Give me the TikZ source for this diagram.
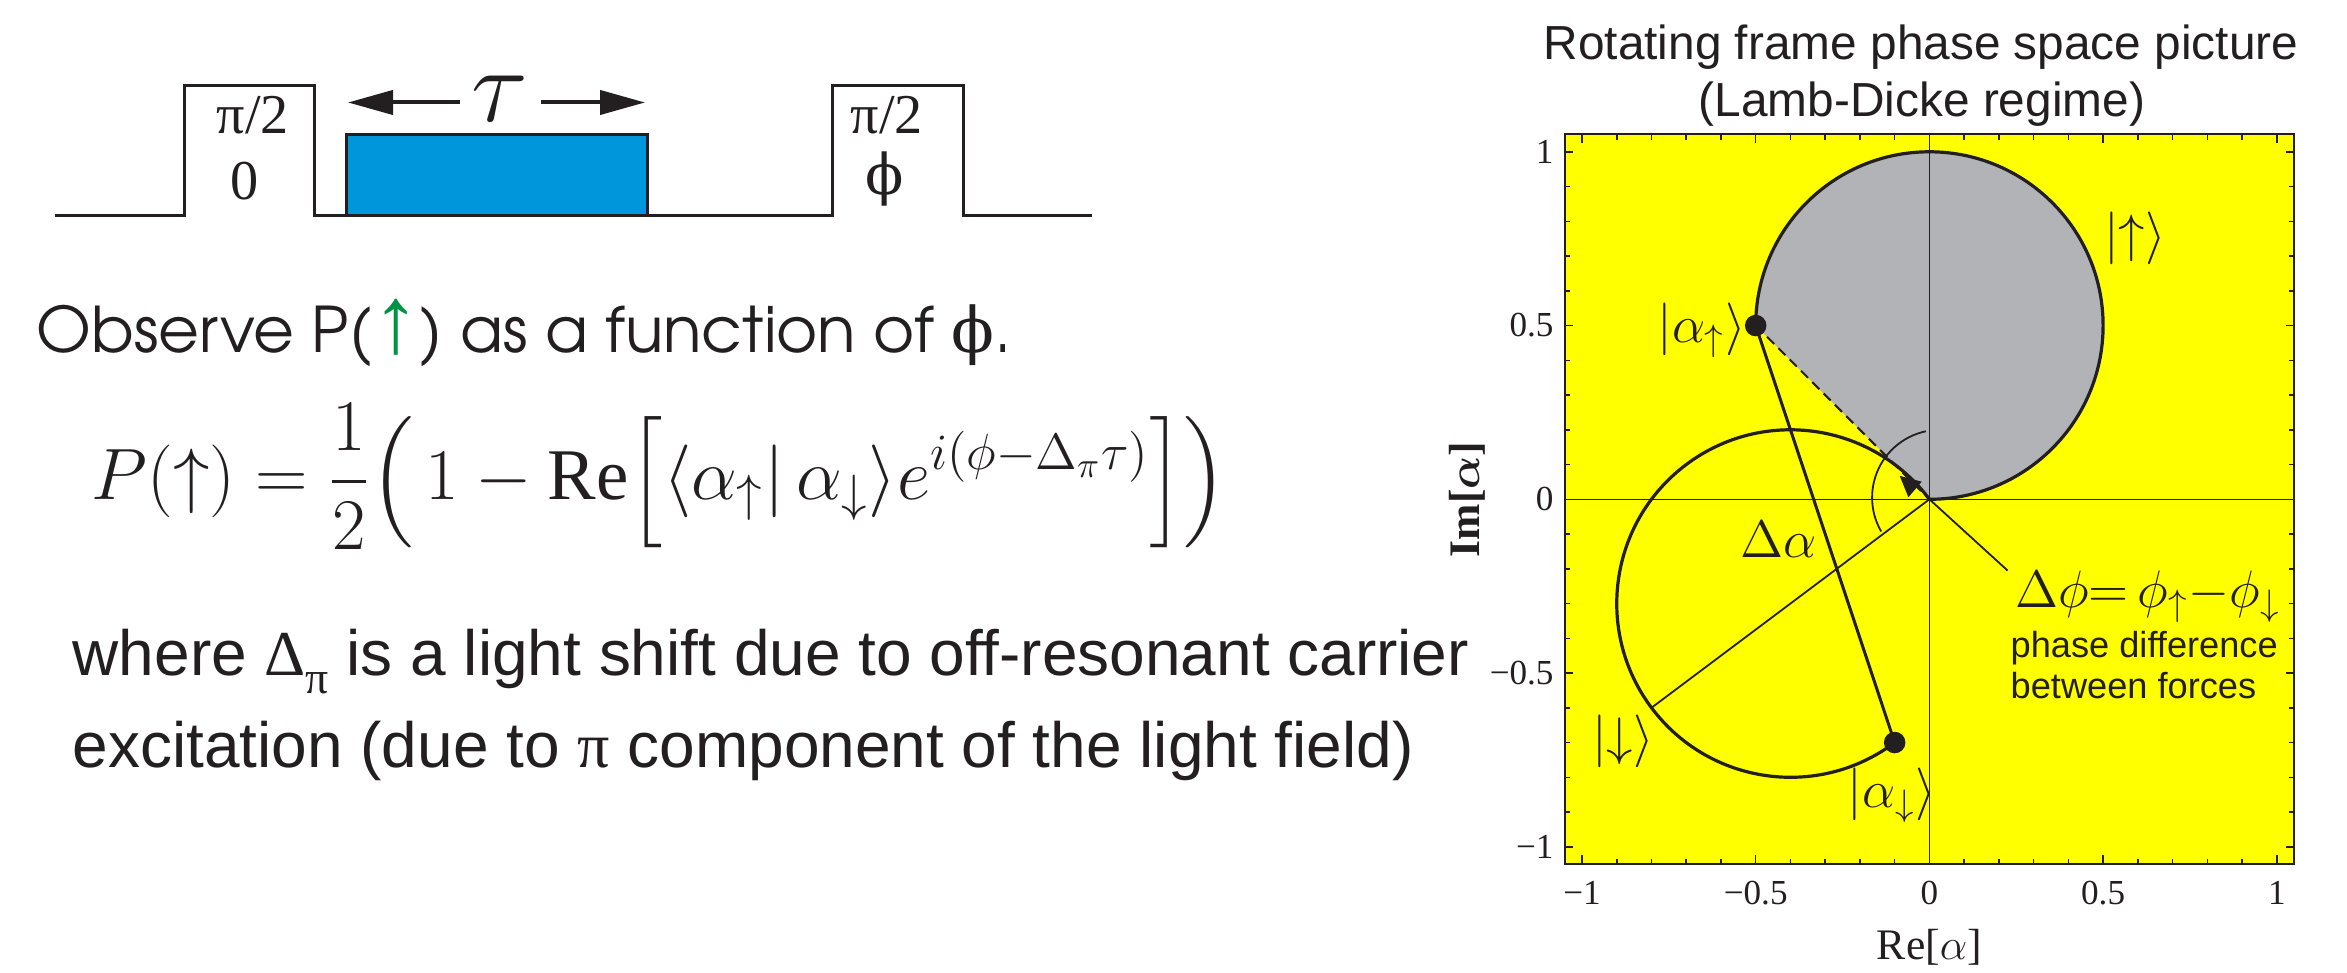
\RequirePackage{fix-cm}
\documentclass[tikz,border=0pt]{standalone}
\usepackage{amsmath}
\usepackage{fontspec}
\setmainfont{Liberation Serif}
\newfontfamily\arialf{Liberation Sans}
\newfontfamily\avantf{texgyreadventor-regular.otf}
\newfontfamily\dejaserif{DejaVu Serif}
\usetikzlibrary{arrows.meta}
\definecolor{ink}{RGB}{35,31,32}
\definecolor{plotyellow}{RGB}{255,255,0}
\definecolor{lobegray}{RGB}{177,179,182}
\definecolor{pulseblue}{RGB}{0,150,220}
\definecolor{upgreen}{RGB}{0,146,69}
\tikzset{
  pulseln/.style={line width=0.3mm, draw=ink, line join=miter},
  tauarr/.style={line width=0.4mm, draw=ink, -{Triangle[length=4.5mm,width=2.4mm]}},
  traj/.style={line width=0.32mm, draw=ink},
  chordln/.style={line width=0.3mm, draw=ink},
  thinln/.style={line width=0.18mm, draw=ink},
  axisln/.style={line width=0.15mm, draw=ink},
  dashedge/.style={line width=0.2mm, draw=ink, dash pattern=on 1mm off 0.6mm},
  tickln/.style={line width=0.15mm, draw=ink},
  framest/.style={line width=0.2mm, draw=ink},
  lbl/.style={inner sep=0, text=ink},
  mlab/.style={inner sep=0, text=ink, font=\fontsize{15}{18}\selectfont},
  ticklab/.style={inner sep=0, text=ink, font=\fontsize{10}{12}\selectfont},
}
\begin{document}
\begin{tikzpicture}[x=0.1mm,y=-0.1mm]
\useasboundingbox (0,0) rectangle (2347,973);
% ---------------- pulse sequence ----------------
\filldraw[pulseln, fill=pulseblue] (346,216) rectangle (647,135);
\draw[pulseln] (55,216) -- (184,216) -- (184,86) -- (314,86) -- (314,216) -- (832,216)
  -- (832,86) -- (963,86) -- (963,216) -- (1092,216);
\node[lbl, anchor=base] (pa) at (253,134) {\fontsize{16}{19}\selectfont π/2};
\node[lbl, anchor=base] (pz) at (245,200) {\fontsize{16}{19}\selectfont 0};
\node[lbl, anchor=base] (pb) at (887,134) {\fontsize{16}{19}\selectfont π/2};
\node[lbl, anchor=center] (pphi) at (885,179) {\dejaserif\fontsize{16}{19}\selectfont ϕ};
\node[lbl, anchor=center] (tau) at (500,99) {\fontsize{30}{34}\selectfont $\tau$};
\coordinate (tl) at (348,102.5);
\coordinate (tr) at (645,102.5);
\coordinate (tlb) at (460,102.5);
\coordinate (trb) at (541,102.5);
\draw[tauarr] (tlb) -- (tl);
\draw[tauarr] (trb) -- (tr);
% ---------------- left texts ----------------
\node[lbl, anchor=base west] (obs) at (36,353)
  {\avantf\fontsize{17.9}{21}\selectfont Observe P({\arialf\fontsize{27}{27}\selectfont\color{upgreen}↑}) as a function of {\dejaserif ϕ}.};
\node[lbl, anchor=base west] (eq) at (91,500)
  {\fontsize{20.7}{24}\selectfont $\displaystyle P(\uparrow)=\frac{1}{2}\Bigl(\,1-\mathrm{Re}\Bigl[\langle\alpha_{\uparrow}|\,\alpha_{\downarrow}\rangle e^{i(\phi-\Delta_{\pi}\tau)}\Bigr]\Bigr)$};
\node[lbl, anchor=base west] (wh1) at (72,676)
  {\arialf\fontsize{18.2}{22}\selectfont where {\rmfamily Δ\raisebox{-0.28em}{\fontsize{13}{13}\selectfont π}} is a light shift due to off-resonant carrier};
\node[lbl, anchor=base west] (wh2) at (72,768)
  {\arialf\fontsize{18.2}{22}\selectfont excitation (due to {\rmfamily π} component of the light field)};
% ---------------- plot title ----------------
\node[lbl, anchor=base] (t1) at (1921,60) {\arialf\fontsize{13.6}{16}\selectfont Rotating frame phase space picture};
\node[lbl, anchor=base] (t2) at (1922,117) {\arialf\fontsize{13.6}{16}\selectfont (Lamb-Dicke regime)};
% ---------------- phase space plot ----------------
\begin{scope}[shift={(1929.4,499.3)}, x=34.74mm, y=34.75mm]
  \fill[plotyellow] (-1.05,-1.05) rectangle (1.05,1.05);
  \coordinate (O) at (0,0);
  \coordinate (au) at (-0.5,0.5);
  \coordinate (ad) at (-0.1,-0.7);
  \coordinate (dia) at (-0.8,-0.6);
  \coordinate (ptr) at (0.225,-0.205);
  \fill[lobegray] (au) arc[start angle=180,end angle=-90,radius=0.5] -- cycle;
  \draw[axisln] (0,-1.05) -- (0,1.05);
  \draw[axisln] (-1.05,0) -- (1.05,0);
  \draw[traj] (au) arc[start angle=180,end angle=-90,radius=0.5];
  \draw[traj] (O) arc[start angle=36.87,end angle=306.87,radius=0.5];
  \draw[dashedge] (au) -- (O);
  \draw[chordln] (au) -- (ad);
  \draw[thinln] (O) -- (dia);
  \draw[thinln] (O) -- (ptr);
  \draw[thinln] (-0.0105,0.1957) arc[start angle=102,end angle=210,radius=0.195];
  \fill[ink] (-0.0855,0.0673) -- (-0.0221,0.0507) -- (-0.0605,0.0058) -- cycle;
  \fill[ink] (au) circle[radius=0.031];
  \fill[ink] (ad) circle[radius=0.031];
  % labels
  \node[mlab] (lau) at (-0.656,0.487) {$|\alpha_{\uparrow}\rangle$};
  \node[mlab] (lup) at (0.592,0.75) {$|{\uparrow}\rangle$};
  \node[mlab] (lda) at (-0.433,-0.115) {$\Delta\alpha$};
  \node[mlab, anchor=west] (ldp) at (0.245,-0.28) {$\Delta\phi{=}\,\phi_{\uparrow}{-}\phi_{\downarrow}$};
  \node[lbl, anchor=base west] (pd1) at (0.232,-0.455) {\arialf\fontsize{10.3}{12}\selectfont phase difference};
  \node[lbl, anchor=base west] (pd2) at (0.232,-0.573) {\arialf\fontsize{10.3}{12}\selectfont between forces};
  \node[mlab] (ldn) at (-0.882,-0.697) {$|{\downarrow}\rangle$};
  \node[mlab] (lad) at (-0.108,-0.853) {$|\alpha_{\downarrow}\rangle$};
  % ticks
  \foreach \i in {-10,...,10} {
    \draw[tickln] (\i/10,-1.05) -- ++(0,0.015);
    \draw[tickln] (\i/10,1.05) -- ++(0,-0.015);
    \draw[tickln] (-1.05,\i/10) -- ++(0.015,0);
    \draw[tickln] (1.05,\i/10) -- ++(-0.015,0);
  }
  \foreach \v in {-1,-0.5,0,0.5,1} {
    \draw[tickln] (\v,-1.05) -- ++(0,0.025);
    \draw[tickln] (\v,1.05) -- ++(0,-0.025);
    \draw[tickln] (-1.05,\v) -- ++(0.025,0);
    \draw[tickln] (1.05,\v) -- ++(-0.025,0);
  }
  \draw[framest] (-1.05,-1.05) rectangle (1.05,1.05);
  % tick labels
  \foreach \v/\t/\n in {1/1/a,0.5/0.5/b,0/0/c,-0.5/−0.5/d,-1/−1/e} {
    \node[ticklab, anchor=east] (yl\n) at (-1.08,\v) {\t};
    \node[ticklab, anchor=center] (xl\n) at (\v,-1.133) {\t};
  }
  \node[inner sep=0, text=ink, rotate=90] (imlab) at (-1.331,0) {\fontsize{12.4}{15}\selectfont\bfseries Im[$\boldsymbol{\alpha}$]};
  \node[inner sep=0, text=ink] (relab) at (0,-1.289) {\fontsize{12.4}{15}\selectfont Re[$\alpha$]};
\end{scope}
\end{tikzpicture}
\end{document}
